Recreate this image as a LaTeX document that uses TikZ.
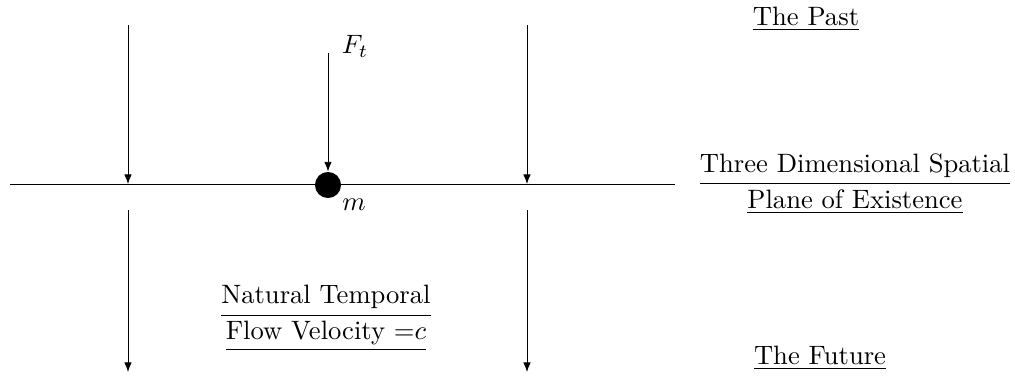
\documentclass[tikz,border=0pt]{standalone}
\usepackage{amsmath}
\usetikzlibrary{arrows.meta}
\begin{document}
\begin{tikzpicture}[x=0.376pt,y=-0.376pt,
  flow/.style={-{Latex[length=3.6pt,width=2.8pt]},line width=0.3pt},
  lbl/.style={inner sep=0pt,anchor=center}]
\useasboundingbox (0,0) rectangle (1015,376);
% plane line
\coordinate (pl) at (10,184);
\coordinate (pr) at (675,184);
\draw[line width=0.3pt] (pl) -- (pr);
% mass
\node[circle,fill=black,minimum size=9.8pt,inner sep=0pt] (mass) at (328,185) {};
\coordinate (ftop) at (328,53);
\draw[flow] (ftop) -- (mass.north);
\node[lbl] (Ft) at (355,46) {$F_t$};
\node[lbl] (m) at (354,205) {$m$};
% left arrows
\coordinate (l1) at (128,25);
\coordinate (l2) at (128,184);
\coordinate (l3) at (128,210);
\coordinate (l4) at (128,372);
\draw[flow] (l1) -- (l2);
\draw[flow] (l3) -- (l4);
% right arrows
\coordinate (r1) at (527,25);
\coordinate (r2) at (527,184);
\coordinate (r3) at (527,210);
\coordinate (r4) at (527,372);
\draw[flow] (r1) -- (r2);
\draw[flow] (r3) -- (r4);
% labels
\node[lbl] (past) at (806,19) {\underline{The Past}};
\node[lbl] (plane) at (855,184) {$\dfrac{\text{Three Dimensional Spatial}}{\underline{\text{Plane of Existence}}}$};
\node[lbl] (future) at (820,358) {\underline{The Future}};
\node[lbl] (flowv) at (326,318) {$\dfrac{\text{Natural Temporal}}{\underline{\text{Flow Velocity }{=}c}}$};
\end{tikzpicture}
\end{document}
